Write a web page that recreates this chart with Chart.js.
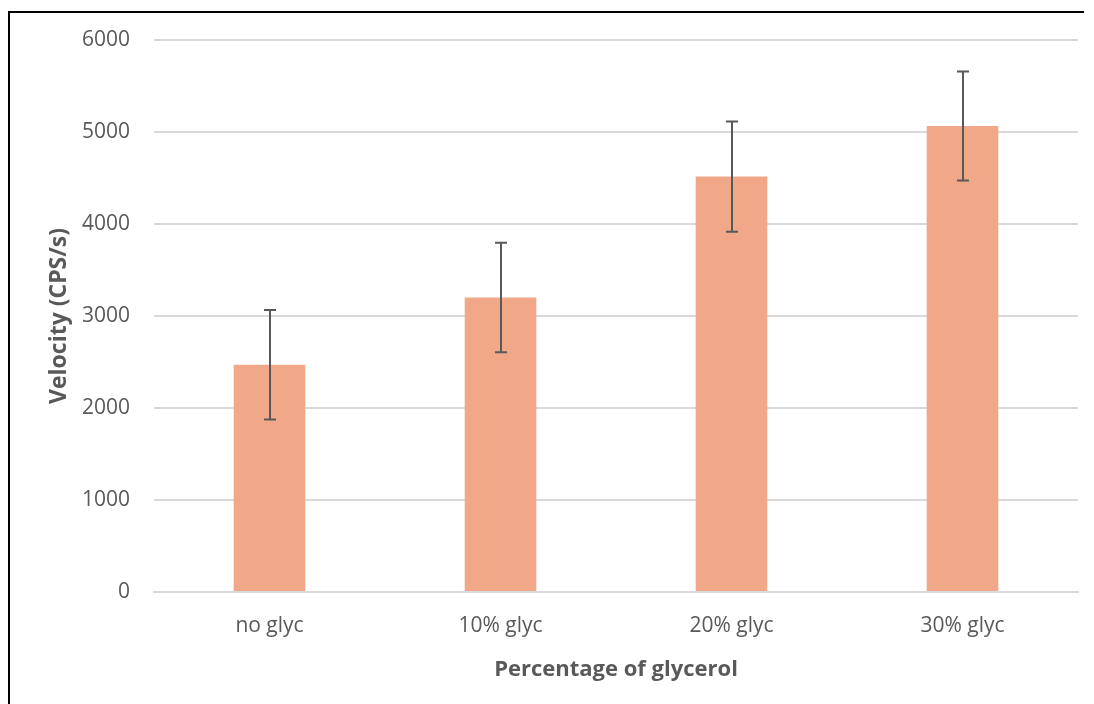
<!DOCTYPE html>
<html>
<head>
<meta charset="utf-8">
<script src="https://cdn.jsdelivr.net/npm/chart.js@4.4.1/dist/chart.umd.min.js"></script>
<style>
  html, body { margin: 0; padding: 0; background: #ffffff; }
  #wrap { position: relative; width: 1094px; height: 704px; overflow: hidden; }
  #frame { position: absolute; left: 8px; top: 11px; width: 1076px; height: 700px; border-left: 2px solid #000; border-top: 2px solid #000; box-sizing: border-box; pointer-events: none; }
  canvas { position: absolute; left: 0; top: 0; }
</style>
</head>
<body>
<div id="wrap">
  <canvas id="c" width="1094" height="704"></canvas>
  <div id="frame"></div>
</div>
<script>
const categories = ["no glyc", "10% glyc", "20% glyc", "30% glyc"];
const velocity = [2470, 3200, 4515, 5065];
const errors = [595, 595, 598, 593];
const yTicks = [0, 1000, 2000, 3000, 4000, 5000, 6000];

const textColor = '#595959';
const fontFamily = '"Open Sans", "DejaVu Sans", sans-serif';

const errorBarPlugin = {
  id: 'errorBars',
  afterDatasetsDraw(chart) {
    const ctx = chart.ctx;
    const meta = chart.getDatasetMeta(0);
    const y = chart.scales.y;
    ctx.save();
    ctx.strokeStyle = '#595959';
    ctx.lineWidth = 2;
    meta.data.forEach((bar, i) => {
      const v = velocity[i], e = errors[i];
      const x = Math.round(bar.x);
      const yt = y.getPixelForValue(v + e);
      const yb = y.getPixelForValue(v - e);
      ctx.beginPath();
      ctx.moveTo(x, yt); ctx.lineTo(x, yb);
      ctx.moveTo(x - 6, yt); ctx.lineTo(x + 6, yt);
      ctx.moveTo(x - 6, yb); ctx.lineTo(x + 6, yb);
      ctx.stroke();
    });
    ctx.restore();
  }
};

new Chart(document.getElementById('c'), {
  type: 'bar',
  data: {
    labels: categories,
    datasets: [{
      data: velocity,
      backgroundColor: '#F1A889',
      borderWidth: 0,
      barPercentage: 0.31,
      categoryPercentage: 1.0
    }]
  },
  options: {
    responsive: false,
    animation: false,
    devicePixelRatio: 1,
    layout: { padding: { left: 0, right: 16, top: 40, bottom: 0 } },
    plugins: { legend: { display: false }, tooltip: { enabled: false } },
    scales: {
      x: {
        grid: { display: false, drawTicks: false },
        border: { display: true, color: '#d9d9d9', width: 2 },
        ticks: { color: textColor, font: { family: fontFamily, size: 21 }, padding: 21, maxRotation: 0 },
        title: { display: true, text: 'Percentage of glycerol', color: textColor, font: { family: fontFamily, size: 22, weight: 'bold' }, padding: { top: 0, bottom: 21 } },
        afterFit(scale) { scale.height = 112; }
      },
      y: {
        min: 0, max: 6000,
        afterBuildTicks(scale) { scale.ticks = yTicks.map(v => ({ value: v })); },
        grid: { color: '#d9d9d9', lineWidth: 2, drawTicks: false },
        border: { display: false },
        ticks: { color: textColor, font: { family: fontFamily, size: 21 }, padding: 24, callback: (v) => String(v) },
        title: { display: true, text: 'Velocity (CPS/s)', color: textColor, font: { family: fontFamily, size: 23, weight: 'bold' }, padding: { top: 46, bottom: 0 } },
        afterFit(scale) { scale.width = 154; }
      }
    }
  },
  plugins: [errorBarPlugin]
});
</script>
</body>
</html>
